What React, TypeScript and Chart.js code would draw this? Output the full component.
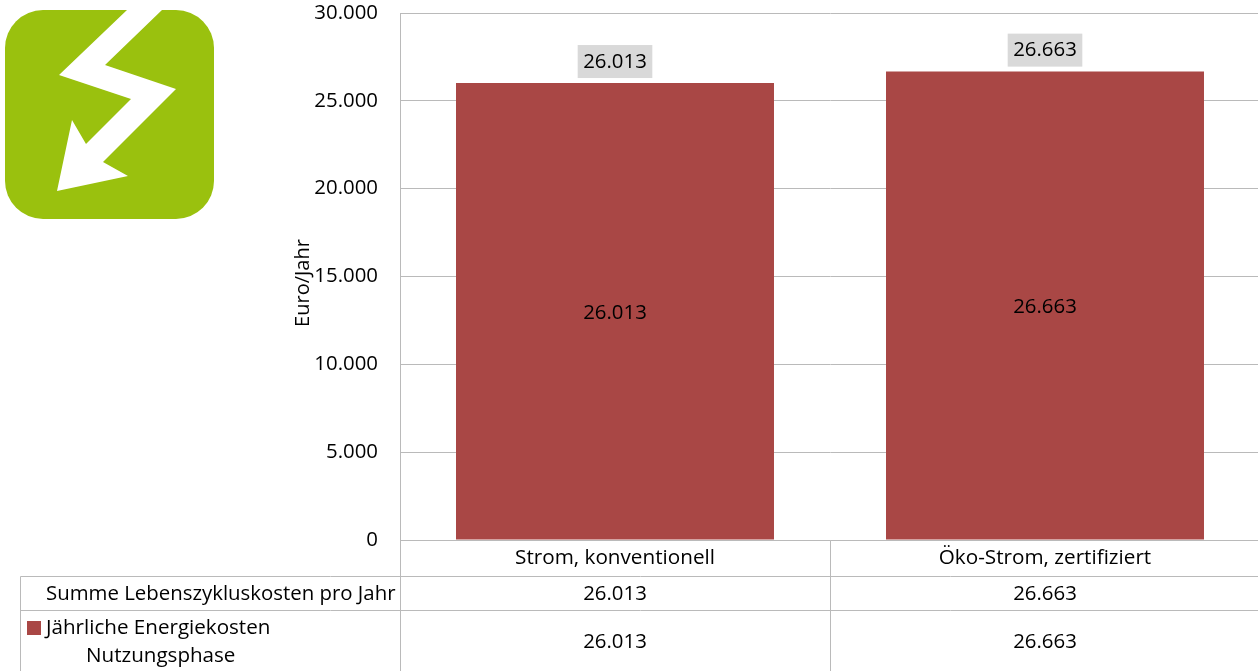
import React, { useEffect, useRef } from "react";
import { Chart, registerables } from "chart.js";

Chart.register(...registerables);

const categories = ["Strom, konventionell", "Öko-Strom, zertifiziert"];
const energyCosts = [26013, 26663];
const totalCosts = [26013, 26663];
const rowTotalLabel = "Summe Lebenszykluskosten pro Jahr";
const rowEnergyLabel = ["Jährliche Energiekosten", "Nutzungsphase"];
const axisTitle = "Euro/Jahr";
const FONT = '"Open Sans", "Noto Sans", sans-serif';
const FS = 20.4;
const LINE = "#bababa";
const BAR = "#a94745";
const fmt = (v: number) => {
  const s = String(v);
  return s.length > 3 ? s.slice(0, -3) + "." + s.slice(-3) : s;
};

const decor = {
  id: "decor",
  afterDatasetsDraw(chart: any) {
    const { ctx } = chart;
    const meta = chart.getDatasetMeta(0);
    ctx.save();
    ctx.font = `${FS}px ${FONT}`;
    ctx.textBaseline = "middle";
    ctx.textAlign = "center";
    meta.data.forEach((bar: any, i: number) => {
      const txt = fmt(energyCosts[i]);
      const w = ctx.measureText(txt).width + 11;
      ctx.fillStyle = "#d9d9d9";
      ctx.fillRect(bar.x - w / 2, bar.y - 38, w, 33);
      ctx.fillStyle = "#000";
      ctx.fillText(txt, bar.x, bar.y - 21);
      ctx.fillText(txt, bar.x, (bar.y + bar.base) / 2 + 2);
    });
    ctx.restore();
  },
  afterDraw(chart: any) {
    const { ctx, scales } = chart;
    const x = scales.x;
    ctx.save();
    // table rules
    ctx.strokeStyle = LINE;
    ctx.lineWidth = 1;
    const seg = (a: number, b: number, c: number, d: number) => {
      ctx.beginPath();
      ctx.moveTo(a + 0.5, b + 0.5);
      ctx.lineTo(c + 0.5, d + 0.5);
      ctx.stroke();
    };
    seg(20, 576, 1260, 576);
    seg(20, 610, 1260, 610);
    seg(20, 576, 20, 671);
    seg(400, 540, 400, 671);
    seg(830, 540, 830, 671);
    // table text
    ctx.font = `${FS}px ${FONT}`;
    ctx.fillStyle = "#000";
    ctx.textBaseline = "middle";
    ctx.textAlign = "center";
    categories.forEach((_, i) => {
      const cx = x.getPixelForTick(i);
      ctx.fillText(fmt(totalCosts[i]), cx, 594);
      ctx.fillText(fmt(energyCosts[i]), cx, 642);
    });
    ctx.textAlign = "left";
    ctx.fillText(rowTotalLabel, 46, 594);
    ctx.font = `20.6px ${FONT}`;
    ctx.fillText(rowEnergyLabel[0], 46, 628);
    ctx.fillText(rowEnergyLabel[1], 86, 656);
    ctx.fillStyle = BAR;
    ctx.fillRect(27, 621, 14, 14);
    // axis title
    ctx.save();
    ctx.translate(303, 283);
    ctx.rotate(-Math.PI / 2);
    ctx.textAlign = "center";
    ctx.fillStyle = "#000";
    ctx.font = `20px ${FONT}`;
    ctx.fillText(axisTitle, 0, 0);
    ctx.restore();
    // logo
    ctx.fillStyle = "#9ac10e";
    ctx.beginPath();
    ctx.roundRect(5, 10, 209, 209, 38);
    ctx.fill();
    ctx.fillStyle = "#fff";
    ctx.beginPath();
    const bolt = [[127,10],[59,75],[131,99],[86,144],[72,120],[57,191],[128,176],[103,162],[176,89],[105,65],[162,10]];
    bolt.forEach(([a, b], i) => (i ? ctx.lineTo(a, b) : ctx.moveTo(a, b)));
    ctx.closePath();
    ctx.fill();
    ctx.restore();
  },
};

export default function App() {
  const ref = useRef<HTMLCanvasElement>(null);
  useEffect(() => {
    const zeroPad = (s: any) => {
      s.paddingTop = 0;
      s.paddingBottom = 0;
      s.paddingLeft = 0;
      s.paddingRight = 0;
    };
    const chart = new Chart(ref.current!, {
      type: "bar",
      data: {
        labels: categories,
        datasets: [
          {
            label: rowEnergyLabel.join(" "),
            data: energyCosts,
            backgroundColor: BAR,
            barPercentage: 0.7395,
            categoryPercentage: 1,
          },
        ],
      },
      options: {
        responsive: false,
        animation: false,
        layout: { autoPadding: false, padding: { top: 13, right: 0, bottom: 0, left: 0 } },
        plugins: { legend: { display: false }, title: { display: false }, tooltip: { enabled: false } },
        scales: {
          x: {
            grid: { display: false, drawTicks: false },
            border: { color: LINE },
            ticks: { color: "#000", font: { family: FONT, size: 20.7 }, padding: 6, maxRotation: 0 },
            afterFit: (s: any) => { s.height = 131; zeroPad(s); },
          },
          y: {
            min: 0,
            max: 30000,
            grid: { color: LINE, drawTicks: false },
            border: { color: LINE },
            ticks: {
              stepSize: 5000,
              color: "#000",
              padding: 22,
              font: { family: FONT, size: FS },
              callback: (v: any) => fmt(Number(v)),
            },
            afterFit: (s: any) => { s.width = 400; zeroPad(s); },
          },
        },
      },
      plugins: [decor],
    } as any);
    return () => chart.destroy();
  }, []);
  return (
    <div style={{ position: "fixed", left: 0, top: 0, width: 1258, height: 671, overflow: "hidden", background: "#fff" }}>
      <canvas ref={ref} width={1260} height={671} style={{ display: "block", width: 1260, height: 671 }} />
    </div>
  );
}
